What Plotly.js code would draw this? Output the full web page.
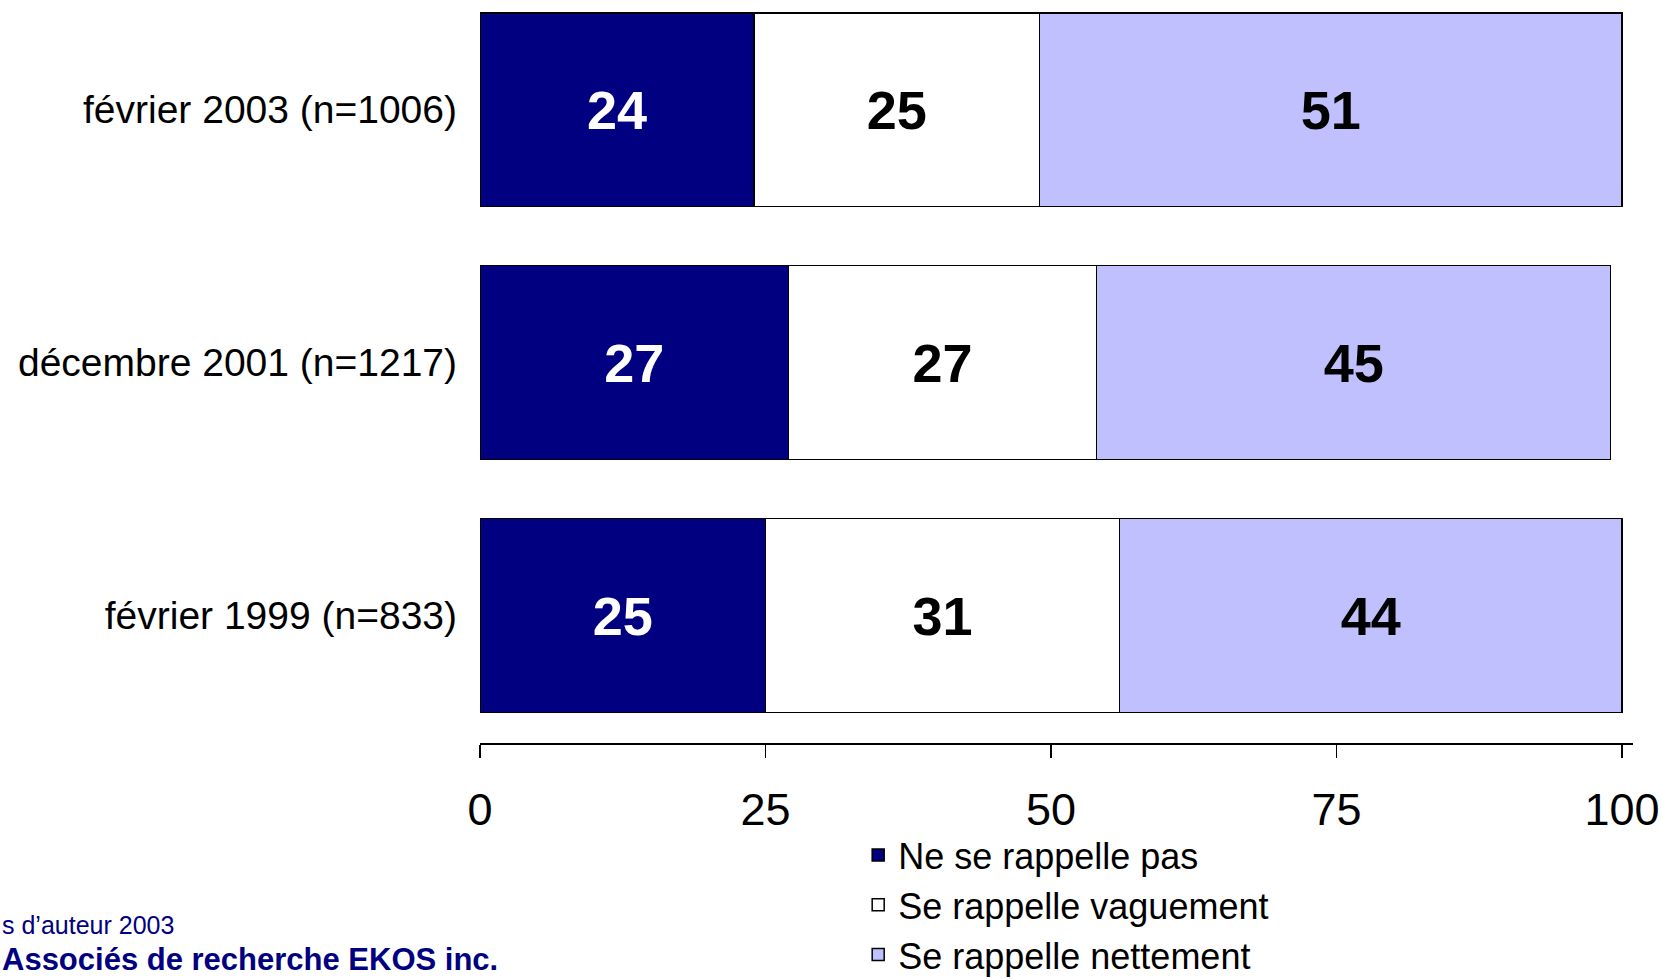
<!DOCTYPE html>
<html>
<head>
<meta charset="utf-8">
<script src="https://cdn.plot.ly/plotly-3.0.1.min.js"></script>
<style>html,body{margin:0;padding:0;background:#fff;}#chart{width:1662px;height:979px;}</style>
</head>
<body>
<div id="chart"></div>
<script>
const categories = ['février 1999 (n=833)', 'décembre 2001 (n=1217)', 'février 2003 (n=1006)'];
const seriesNames = ['Ne se rappelle pas', 'Se rappelle vaguement', 'Se rappelle nettement'];
const nePas = [25, 27, 24];
const vaguement = [31, 27, 25];
const nettement = [44, 45, 51];
const xTicks = [0, 25, 50, 75, 100];
const footerLine1 = 's d’auteur 2003';
const footerLine2 = 'Associés de recherche EKOS inc.';

const sans = '"Liberation Sans", Arial, sans-serif';
const fills = ['#000080', '#FFFFFF', '#C0C0FF'];
const textColors = ['#FFFFFF', '#000000', '#000000'];
const values = [nePas, vaguement, nettement];

const traces = values.map((v, i) => ({
  type: 'bar',
  orientation: 'h',
  name: seriesNames[i],
  y: categories,
  x: v,
  text: v.map(String),
  textposition: 'inside',
  insidetextanchor: 'middle',
  textangle: 0,
  textfont: {family: sans, size: 54, color: textColors[i], weight: 'bold'},
  marker: {color: fills[i], line: {color: '#000000', width: 1.5}},
  hoverinfo: 'skip'
}));

const layout = {
  width: 1662,
  height: 979,
  margin: {l: 480, r: 29, t: 0, b: 236, pad: 0, autoexpand: false},
  paper_bgcolor: '#FFFFFF',
  plot_bgcolor: '#FFFFFF',
  barmode: 'stack',
  bargap: 0.233,
  showlegend: true,
  legend: {
    x: 0.328, xanchor: 'left',
    y: -0.1104, yanchor: 'top',
    traceorder: 'normal',
    font: {family: sans, size: 36, color: '#000000'},
    tracegroupgap: 0,
    bgcolor: 'rgba(0,0,0,0)'
  },
  xaxis: {
    range: [0, 100.96],
    tickvals: xTicks,
    ticktext: xTicks.map(String),
    ticks: 'outside',
    ticklen: 13,
    tickwidth: 1.5,
    tickcolor: '#000000',
    showline: true,
    linecolor: '#000000',
    linewidth: 2,
    showgrid: false,
    zeroline: false,
    ticklabelstandoff: 13,
    ticklabeloverflow: 'allow',
    tickfont: {family: sans, size: 45, color: '#000000'},
    fixedrange: true
  },
  yaxis: {
    type: 'category',
    categoryorder: 'array',
    categoryarray: categories,
    range: [-0.504, 2.434],
    showline: false,
    showgrid: false,
    zeroline: false,
    ticks: '',
    ticklabelstandoff: 22,
    tickfont: {family: sans, size: 39, color: '#000000'},
    fixedrange: true
  },
  annotations: [
    {xref: 'paper', yref: 'paper', x: -0.4163, xanchor: 'left', y: -0.245, yanchor: 'middle',
     text: footerLine1, showarrow: false, font: {family: sans, size: 25, color: '#000080'}},
    {xref: 'paper', yref: 'paper', x: -0.4163, xanchor: 'left', y: -0.292, yanchor: 'middle',
     text: '<b>' + footerLine2 + '</b>', showarrow: false, font: {family: sans, size: 31, color: '#000080'}}
  ]
};

Plotly.newPlot('chart', traces, layout, {displayModeBar: false, staticPlot: true});
</script>
</body>
</html>
